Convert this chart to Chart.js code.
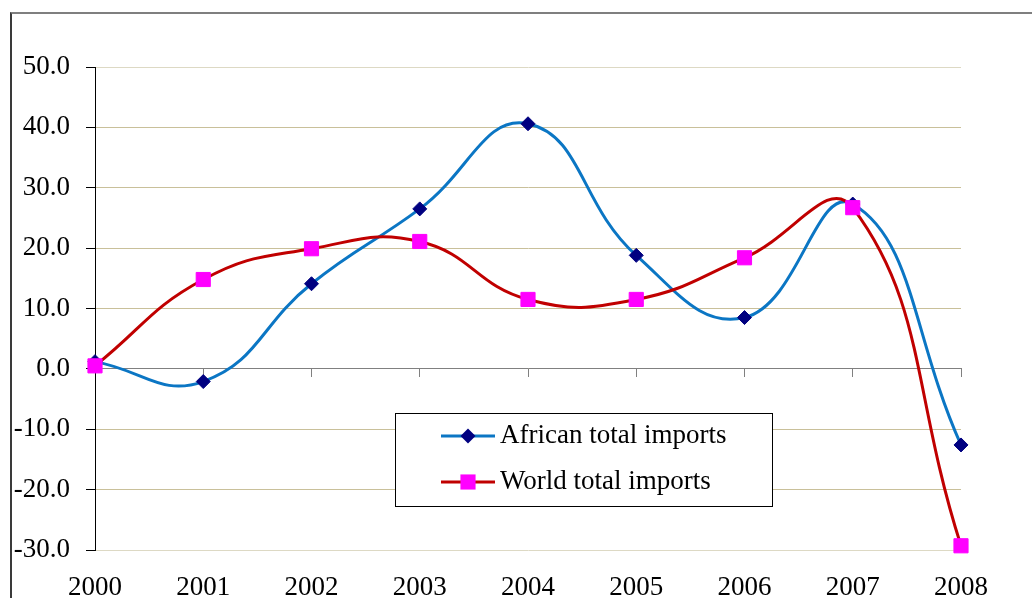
<!DOCTYPE html>
<html>
<head>
<meta charset="utf-8">
<title>Imports growth</title>
<script src="https://cdn.jsdelivr.net/npm/chart.js@4/dist/chart.umd.min.js"></script>
<style>
  body { margin: 0; background: #fff; }
  #wrap { position: relative; width: 1032px; height: 598px; overflow: hidden; }
  #frame { position: absolute; left: 10px; top: 12px; width: 1100px; height: 700px;
           border-top: 2px solid #7f7f7f; border-left: 2px solid #3a3a3a; }
  #chart { position: absolute; left: 0; top: 0; }
</style>
</head>
<body>
<div id="wrap">
  <div id="frame"></div>
  <canvas id="chart" width="1032" height="598"></canvas>
</div>
<script>
// annual growth of imports, %
var years = ['2000', '2001', '2002', '2003', '2004', '2005', '2006', '2007', '2008'];
var africanImports = [1.2, -2.1, 14.1, 26.5, 40.6, 18.8, 8.5, 27.3, -12.6];
var worldImports = [0.5, 14.8, 19.9, 21.1, 11.5, 11.5, 18.4, 26.7, -29.3];
var yTicks = { min: -30, max: 50, step: 10 };

var serif = { family: "'Liberation Serif', 'DejaVu Serif', serif", size: 27 };

// boxed legend sitting inside the plot area
var boxLegend = {
  id: 'boxLegend',
  afterDatasetsDraw: function(chart, args, opts) {
    var ctx = chart.ctx;
    ctx.save();
    ctx.fillStyle = '#fff';
    ctx.fillRect(opts.x, opts.y, opts.w, opts.h);
    ctx.strokeStyle = '#000';
    ctx.lineWidth = 1;
    ctx.strokeRect(opts.x + 0.5, opts.y + 0.5, opts.w, opts.h);

    chart.data.datasets.forEach(function(ds, i) {
      var cy = opts.y + opts.firstRow + i * opts.rowGap;
      var x0 = opts.x + 46, x1 = opts.x + 100, cx = opts.x + 73;
      ctx.strokeStyle = ds.borderColor;
      ctx.lineWidth = ds.borderWidth;
      ctx.beginPath();
      ctx.moveTo(x0, cy);
      ctx.lineTo(x1, cy);
      ctx.stroke();

      ctx.fillStyle = ds.pointBackgroundColor;
      ctx.beginPath();
      if (ds.pointStyle === 'rectRot') {
        var r = ds.pointRadius + 0.5;
        ctx.moveTo(cx - r, cy);
        ctx.lineTo(cx, cy - r);
        ctx.lineTo(cx + r, cy);
        ctx.lineTo(cx, cy + r);
        ctx.closePath();
      } else {
        var s = ds.pointRadius * Math.SQRT1_2 + 0.5;
        ctx.rect(cx - s, cy - s, 2 * s, 2 * s);
      }
      ctx.fill();

      ctx.fillStyle = '#000';
      ctx.font = serif.size + 'px ' + serif.family;
      ctx.textBaseline = 'middle';
      ctx.textAlign = 'left';
      ctx.fillText(ds.label, opts.x + 105, cy);
    });
    ctx.restore();
  }
};

var ctx = document.getElementById('chart').getContext('2d');
var chart = new Chart(ctx, {
  type: 'line',
  data: {
    labels: years,
    datasets: [{
      label: 'African total imports',
      data: africanImports,
      borderColor: '#0b76c4',
      borderWidth: 3,
      tension: 0.45,
      pointStyle: 'rectRot',
      pointRadius: 7,
      pointBackgroundColor: '#000080',
      pointBorderColor: '#000080',
      pointBorderWidth: 1,
      clip: false,
      order: 1
    }, {
      label: 'World total imports',
      data: worldImports,
      borderColor: '#c00000',
      borderWidth: 3,
      tension: 0.45,
      pointStyle: 'rect',
      pointRadius: 10,
      pointBackgroundColor: '#ff00ff',
      pointBorderColor: '#ff00ff',
      pointBorderWidth: 1,
      clip: false,
      order: 0
    }]
  },
  options: {
    responsive: false,
    animation: false,
    layout: { padding: { top: 67, right: 71, bottom: 0, left: 0 } },
    plugins: {
      legend: { display: false },
      tooltip: { enabled: false },
      boxLegend: { x: 395, y: 413, w: 377, h: 93, firstRow: 23, rowGap: 46 }
    },
    scales: {
      x: {
        offset: false,
        grid: { display: false },
        border: { display: false },
        ticks: { font: serif, color: '#000', padding: 14, maxRotation: 0, autoSkip: false },
        afterFit: function(scale) { scale.height = 48; }
      },
      // category axis crossing at zero, tick marks only
      x0: {
        axis: 'x',
        type: 'category',
        offset: false,
        position: { y: 0 },
        grid: { drawOnChartArea: false, tickLength: 8, color: '#808080' },
        border: { color: '#808080', width: 1 },
        ticks: { display: false },
        afterFit: function(scale) { scale.height = 0; }
      },
      y: {
        min: yTicks.min,
        max: yTicks.max,
        ticks: {
          stepSize: yTicks.step,
          font: serif,
          color: '#000',
          padding: 16,
          callback: function(v) { return v.toFixed(1); }
        },
        grid: {
          color: function(c) {
            var v = c.tick && c.tick.value;
            return (v === yTicks.max || v === yTicks.min) ? '#ddd9c4' : '#c9c09a';
          },
          tickColor: '#000',
          tickLength: 9
        },
        border: { color: '#000', width: 1 },
        afterFit: function(scale) { scale.width = 95; }
      }
    }
  },
  plugins: [boxLegend]
});
</script>
</body>
</html>
